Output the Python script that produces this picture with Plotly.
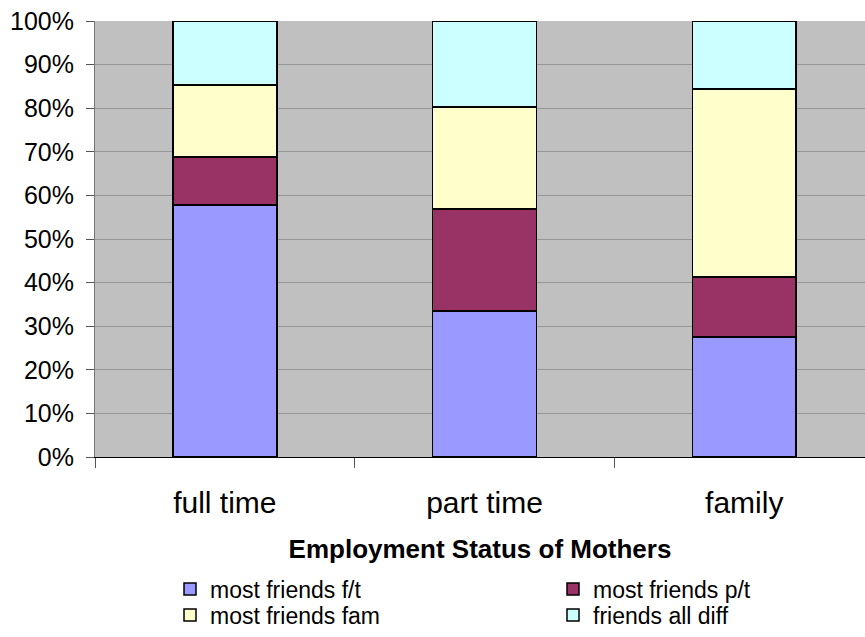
import plotly.graph_objects as go

categories = ["full time", "part time", "family"]
series_names = ["most friends f/t", "most friends p/t", "most friends fam", "friends all diff"]
ft_vals = [57.8, 33.5, 27.5]
pt_vals = [11.0, 23.4, 13.8]
fam_vals = [16.5, 23.4, 43.1]
diff_vals = [14.7, 19.7, 15.6]
colors = ["#9999FF", "#993366", "#FFFFCC", "#CCFFFF"]
y_ticks = [0, 10, 20, 30, 40, 50, 60, 70, 80, 90, 100]
y_tick_text = [f"{v}%" for v in y_ticks]

legend_ids = ["legend", "legend2", "legend3", "legend4"]
# legend entry positions (pixels): left x of entry, anchor y, anchor side
legend_pos = [(170, 589, "middle"), (553, 589, "middle"), (170, 636.5, "bottom"), (553, 636.5, "bottom")]

fig = go.Figure()
for name, vals, col, lid in zip(series_names, [ft_vals, pt_vals, fam_vals, diff_vals], colors, legend_ids):
    fig.add_trace(go.Bar(
        x=categories, y=vals, name=name, width=0.4, legend=lid,
        marker=dict(color=col, line=dict(color="#000000", width=1.5)),
    ))

legend_layout = {}
for lid, (lx, ly, anchor) in zip(legend_ids, legend_pos):
    legend_layout[lid] = dict(
        xref="paper", yref="paper",
        x=(lx - 95) / 770, y=(457 - ly) / 436,
        xanchor="left", yanchor=anchor,
        font=dict(size=23, color="#000000"),
        bgcolor="rgba(0,0,0,0)",
        itemwidth=30,
    )

fig.update_layout(
    barmode="stack",
    width=865, height=637,
    margin=dict(l=95, r=0, t=21, b=180),
    paper_bgcolor="#FFFFFF",
    plot_bgcolor="#C0C0C0",
    font=dict(family="Liberation Sans, Arial, sans-serif", color="#000000"),
    showlegend=True,
    xaxis=dict(
        type="category",
        range=[-0.5, 2.465],
        automargin=False,
        showgrid=False,
        showline=True, linecolor="#000000", linewidth=1,
        ticks="outside", tickson="boundaries", ticklen=10, tickcolor="#555555",
        tickfont=dict(size=30, color="#000000"),
        ticklabelstandoff=19,
        title=dict(text="<b>Employment Status of Mothers</b>", font=dict(size=26, color="#000000"), standoff=21),
        zeroline=False,
    ),
    yaxis=dict(
        range=[0, 100],
        automargin=False,
        tickvals=y_ticks, ticktext=y_tick_text,
        showgrid=True, gridcolor="#969696", gridwidth=1,
        showline=True, linecolor="#777777", linewidth=1,
        ticks="outside", ticklen=8, tickcolor="#555555",
        tickfont=dict(size=25, color="#000000"),
        ticklabelstandoff=7,
        zeroline=False,
    ),
    **legend_layout,
)

fig.write_html("out.html", config={"displayModeBar": False},
               post_script="document.body.style.margin='0';")
